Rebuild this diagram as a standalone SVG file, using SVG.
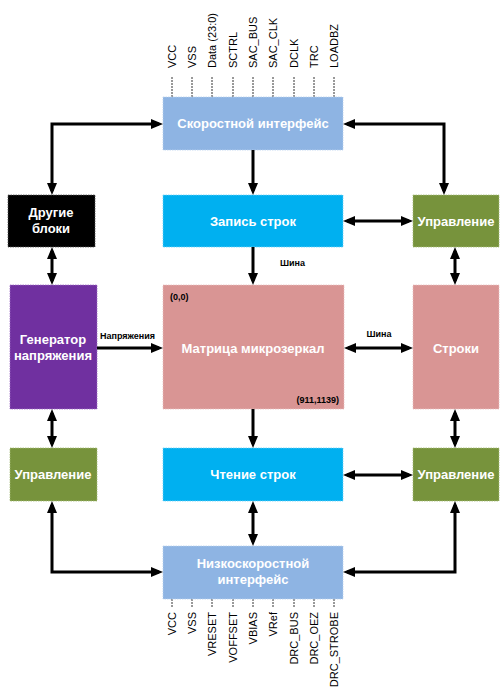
<svg xmlns="http://www.w3.org/2000/svg" width="500" height="699" viewBox="0 0 500 699">
<style>
.box{stroke-width:0.8;stroke-dasharray:1.5,1}
.lbl{font-family:"Liberation Sans",Arial,sans-serif;font-weight:bold;font-size:13px;fill:#fff;text-anchor:middle}
.small{font-family:"Liberation Sans",Arial,sans-serif;font-weight:bold;font-size:9px;fill:#000}
.pin{font-family:"Liberation Sans",Arial,sans-serif;font-size:11px;fill:#000}
.tick{stroke:#333;stroke-width:1;stroke-dasharray:2,1}
.c{fill:none;stroke:#000;stroke-width:3}
.d{marker-start:url(#ah);marker-end:url(#ah)}
.s{marker-end:url(#ah)}
</style>
<defs>
<marker id="ah" viewBox="0 0 12 10" refX="8" refY="5" markerWidth="12" markerHeight="10" markerUnits="userSpaceOnUse" orient="auto-start-reverse">
<path d="M0,0 L12,5 L0,10 z" fill="#000"/>
</marker>
</defs>
<rect width="500" height="699" fill="#fff"/>

<g id="pins-top">
<line class="tick" x1="172" y1="77" x2="172" y2="97"/>
<line class="tick" x1="192" y1="77" x2="192" y2="97"/>
<line class="tick" x1="212" y1="77" x2="212" y2="97"/>
<line class="tick" x1="233" y1="77" x2="233" y2="97"/>
<line class="tick" x1="253" y1="77" x2="253" y2="97"/>
<line class="tick" x1="273" y1="77" x2="273" y2="97"/>
<line class="tick" x1="294" y1="77" x2="294" y2="97"/>
<line class="tick" x1="314" y1="77" x2="314" y2="97"/>
<line class="tick" x1="334" y1="77" x2="334" y2="97"/>
<text class="pin" transform="translate(176,68) rotate(-90)">VCC</text>
<text class="pin" transform="translate(196,68) rotate(-90)">VSS</text>
<text class="pin" transform="translate(216,68) rotate(-90)">Data (23:0)</text>
<text class="pin" transform="translate(237,68) rotate(-90)">SCTRL</text>
<text class="pin" transform="translate(257,68) rotate(-90)">SAC_BUS</text>
<text class="pin" transform="translate(277,68) rotate(-90)">SAC_CLK</text>
<text class="pin" transform="translate(298,68) rotate(-90)">DCLK</text>
<text class="pin" transform="translate(318,68) rotate(-90)">TRC</text>
<text class="pin" transform="translate(338,68) rotate(-90)">LOADBZ</text>
</g>

<g id="pins-bottom">
<line class="tick" x1="172" y1="599" x2="172" y2="608"/>
<line class="tick" x1="192" y1="599" x2="192" y2="608"/>
<line class="tick" x1="212" y1="599" x2="212" y2="608"/>
<line class="tick" x1="233" y1="599" x2="233" y2="608"/>
<line class="tick" x1="253" y1="599" x2="253" y2="608"/>
<line class="tick" x1="273" y1="599" x2="273" y2="608"/>
<line class="tick" x1="294" y1="599" x2="294" y2="608"/>
<line class="tick" x1="314" y1="599" x2="314" y2="608"/>
<line class="tick" x1="334" y1="599" x2="334" y2="608"/>
<text class="pin" text-anchor="end" transform="translate(176,612) rotate(-90)">VCC</text>
<text class="pin" text-anchor="end" transform="translate(196,612) rotate(-90)">VSS</text>
<text class="pin" text-anchor="end" transform="translate(216,612) rotate(-90)">VRESET</text>
<text class="pin" text-anchor="end" transform="translate(237,612) rotate(-90)">VOFFSET</text>
<text class="pin" text-anchor="end" transform="translate(257,612) rotate(-90)">VBIAS</text>
<text class="pin" text-anchor="end" transform="translate(277,612) rotate(-90)">VRef</text>
<text class="pin" text-anchor="end" transform="translate(298,612) rotate(-90)">DRC_BUS</text>
<text class="pin" text-anchor="end" transform="translate(318,612) rotate(-90)">DRC_OEZ</text>
<text class="pin" text-anchor="end" transform="translate(338,612) rotate(-90)">DRC_STROBE</text>
</g>

<g id="fast-interface">
<rect class="box" x="163" y="97" width="180" height="53" fill="#8EB4E3" stroke="#B9D0EE"/>
<text class="lbl" x="253" y="128">Скоростной интерфейс</text>
</g>
<g id="other-blocks">
<rect class="box" x="8" y="195" width="87" height="52" fill="#000" stroke="#555"/>
<text class="lbl" x="51" y="217">Другие</text>
<text class="lbl" x="51" y="233">блоки</text>
</g>
<g id="row-write">
<rect class="box" x="163" y="195" width="180" height="52" fill="#00B0F0" stroke="#6FD3F7"/>
<text class="lbl" x="253" y="226">Запись строк</text>
</g>
<g id="control-top-right">
<rect class="box" x="413" y="195" width="86" height="52" fill="#77933C" stroke="#A6BD78"/>
<text class="lbl" x="456" y="226">Управление</text>
</g>
<g id="voltage-generator">
<rect class="box" x="10" y="285" width="87" height="124" fill="#7030A0" stroke="#9E6CC4"/>
<text class="lbl" x="53" y="344">Генератор</text>
<text class="lbl" x="53" y="360">напряжения</text>
</g>
<g id="mirror-matrix">
<rect class="box" x="163" y="285" width="181" height="124" fill="#D99594" stroke="#EAC0BF"/>
<text class="lbl" x="253" y="353">Матрица микрозеркал</text>
<text class="small" x="170" y="300">(0,0)</text>
<text class="small" x="339" y="403" text-anchor="end">(911,1139)</text>
</g>
<g id="rows">
<rect class="box" x="413" y="285" width="86" height="124" fill="#D99594" stroke="#EAC0BF"/>
<text class="lbl" x="456" y="353">Строки</text>
</g>
<g id="control-bottom-left">
<rect class="box" x="10" y="448" width="87" height="53" fill="#77933C" stroke="#A6BD78"/>
<text class="lbl" x="53" y="479">Управление</text>
</g>
<g id="row-read">
<rect class="box" x="163" y="448" width="180" height="53" fill="#00B0F0" stroke="#6FD3F7"/>
<text class="lbl" x="253" y="479">Чтение строк</text>
</g>
<g id="control-bottom-right">
<rect class="box" x="413" y="448" width="86" height="53" fill="#77933C" stroke="#A6BD78"/>
<text class="lbl" x="456" y="479">Управление</text>
</g>
<g id="slow-interface">
<rect class="box" x="163" y="546" width="180" height="53" fill="#8EB4E3" stroke="#B9D0EE"/>
<text class="lbl" x="253" y="568">Низкоскоростной</text>
<text class="lbl" x="253" y="584">интерфейс</text>
</g>

<g id="connectors">
<path class="c d" d="M52,191 V124 H159"/>
<path class="c d" d="M52,251 V281"/>
<path class="c d" d="M347,124 H444 V191"/>
<path class="c d" d="M347,221 H409"/>
<path class="c d" d="M455,251 V281"/>
<path class="c s" d="M253,150 V191"/>
<path class="c s" d="M253,247 V281"/>
<path class="c s" d="M97,348 H159"/>
<path class="c d" d="M348,348 H409"/>
<path class="c s" d="M253,409 V444"/>
<path class="c d" d="M253,505 V542"/>
<path class="c d" d="M52,413 V444"/>
<path class="c d" d="M52,505 V572 H159"/>
<path class="c d" d="M347,475 H409"/>
<path class="c d" d="M455,413 V444"/>
<path class="c d" d="M347,572 H455 V505"/>
<text class="small" x="280" y="266">Шина</text>
<text class="small" x="379" y="337" text-anchor="middle">Шина</text>
<text class="small" x="100" y="339">Напряжения</text>
</g>
</svg>
